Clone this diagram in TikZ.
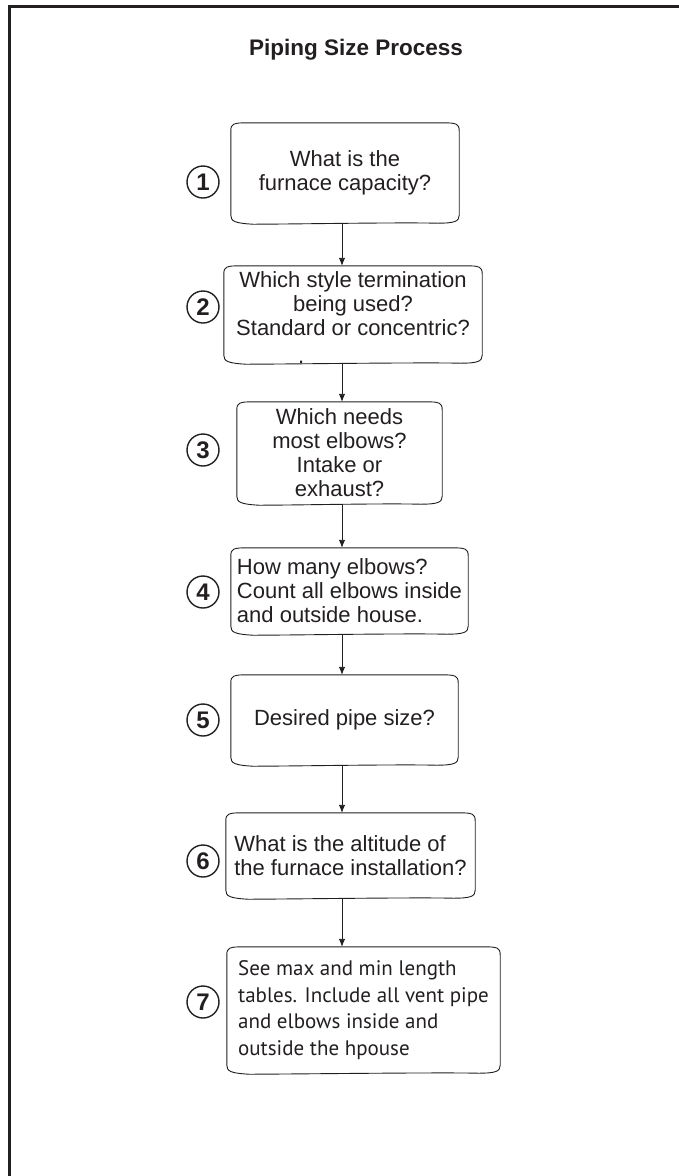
\documentclass[tikz,border=0pt]{standalone}
\usepackage{fontspec}
\setmainfont{Liberation Sans}
\newfontfamily\notefont{PT Sans}
\usetikzlibrary{arrows.meta}
\definecolor{ink}{RGB}{35,31,32}

\begin{document}
\begin{tikzpicture}[x=1pt,y=-1pt,
  stepbox/.style={inner sep=0pt, align=center, text=ink, font=\fontsize{22}{24}\selectfont},
  outline/.style={draw=ink, line width=0.9pt},
  num/.style={circle, draw=ink, line width=1.4pt, minimum size=32pt, inner sep=0pt, text=ink, font=\bfseries\fontsize{24}{24}\selectfont},
  flow/.style={draw=ink, line width=0.9pt, -{Latex[length=8pt,width=6.5pt]}}]
\useasboundingbox (0,0) rectangle (678,1176);

% frame
\draw[ink, line width=3pt] (9,1180) -- (9,6) -- (682,6);

% title
\node[anchor=base, text=ink, font=\bfseries\fontsize{22.5}{22.5}\selectfont] (title) at (356,55) {Piping Size Process};

% steps
\node[stepbox, minimum width=228pt, minimum height=100pt] (b1) at (345,173) {What is the\\furnace capacity?};
\node[stepbox, minimum width=258pt, minimum height=97pt] (b2) at (353,314.5) {Which style termination\\being used?\\\makebox[0pt][l]{\hspace{62pt}\raisebox{-28pt}[0pt][0pt]{.}}Standard or concentric?\\[-2pt]};
\node[stepbox, minimum width=205pt, minimum height=102pt] (b3) at (339.5,453) {Which needs\\most elbows?\\Intake or\\exhaust?};
\node[stepbox, align=left, minimum width=237pt, minimum height=86pt] (b4) at (349.5,591) {How many elbows?\\Count all elbows inside\\and outside house.};
\node[stepbox, minimum width=227pt, minimum height=90pt] (b5) at (344.5,720) {Desired pipe size?};
\node[stepbox, align=left, minimum width=249pt, minimum height=85pt] (b6) at (350.5,855.5) {What is the altitude of\\the furnace installation?};
\node[stepbox, align=left, minimum width=273pt, minimum height=126pt, font=\notefont\fontsize{21}{26.5}\selectfont] (b7) at (363.5,1010) {See max and min length\\tables. Include all vent pipe\\and elbows inside and\\outside the hpouse};

% box outlines
\foreach \b in {b1,b2,b3,b4,b5,b6,b7}
  \draw[outline] ([yshift=-8pt]\b.north west)
    .. controls ([yshift=-1pt]\b.north west) and ([xshift=3pt]\b.north west) .. ([xshift=16pt]\b.north west)
    -- ([xshift=-16pt]\b.north east)
    .. controls ([xshift=-3pt]\b.north east) and ([yshift=-1pt]\b.north east) .. ([yshift=-8pt]\b.north east)
    -- ([yshift=8pt]\b.south east)
    .. controls ([yshift=2pt]\b.south east) and ([xshift=-4pt]\b.south east) .. ([xshift=-22pt]\b.south east)
    .. controls ([xshift=-60pt,yshift=1pt]\b.south east) and ([xshift=60pt,yshift=-1pt]\b.south west) .. ([xshift=22pt,yshift=-1pt]\b.south west)
    .. controls ([xshift=4pt]\b.south west) and ([yshift=2pt]\b.south west) .. ([yshift=8pt]\b.south west)
    -- cycle;

% step numbers
\node[num] (n1) at (203,182) {1};
\node[num] (n2) at (203,307) {2};
\node[num] (n3) at (203,450) {3};
\node[num] (n4) at (203,592) {4};
\node[num] (n5) at (203,720) {5};
\node[num] (n6) at (203,861) {6};
\node[num] (n7) at (203,1002) {7};

% arrows
\coordinate (ax) at (342,0);
\draw[flow] (b1.south -| ax) -- (b2.north -| ax);
\draw[flow] (b2.south -| ax) -- (b3.north -| ax);
\draw[flow] (b3.south -| ax) -- (b4.north -| ax);
\draw[flow] (b4.south -| ax) -- (b5.north -| ax);
\draw[flow] (b5.south -| ax) -- (b6.north -| ax);
\draw[flow] (b6.south -| ax) -- (b7.north -| ax);

\end{tikzpicture}
\end{document}
